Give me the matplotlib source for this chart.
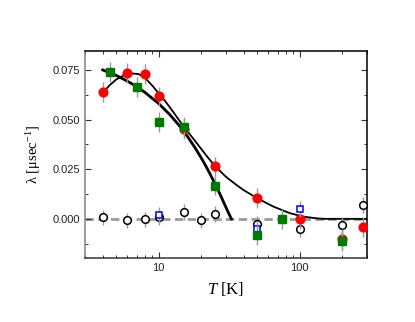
import matplotlib
matplotlib.use("Agg")
import matplotlib.pyplot as plt
from matplotlib.ticker import MultipleLocator, LogLocator, NullFormatter, FixedLocator, FixedFormatter

plt.rcParams["mathtext.fontset"] = "custom"
plt.rcParams["mathtext.it"] = "Liberation Serif:italic"
plt.rcParams["mathtext.rm"] = "Liberation Serif"
plt.rcParams["mathtext.default"] = "rm"

# red circles
T_red = [4, 6, 8, 10, 15, 25, 50, 100, 200, 280]
lam_red = [0.0639, 0.0737, 0.0729, 0.0617, 0.0453, 0.0264, 0.0107, 0.0, -0.0102, -0.0039]
err_red = [0.005] * len(T_red)

# green squares
T_green = [4.5, 7, 10, 15, 25, 50, 75, 200]
lam_green = [0.0739, 0.0664, 0.049, 0.0462, 0.0168, -0.0081, 0.0, -0.0111]
err_green = [0.005] * len(T_green)

# blue open squares
T_blue = [10, 50, 100]
lam_blue = [0.002, -0.0052, 0.0049]
err_blue = [0.004] * len(T_blue)

# black open circles
T_open = [4, 6, 8, 10, 15, 20, 25, 50, 100, 200, 280]
lam_open = [0.0007, -0.0008, -0.0003, 0.0007, 0.0034, -0.0008, 0.0025, -0.0025, -0.0049, -0.003, 0.0072]
err_open = [0.004] * len(T_open)

# thick curve
T_thick = [4, 5, 6, 7, 8, 10, 12, 14, 16, 18, 20, 22, 24, 26, 28, 30, 31.5, 32.8]
lam_thick = [0.0751, 0.0723, 0.0694, 0.0666, 0.0637, 0.0581, 0.0525, 0.0470, 0.0415,
             0.0361, 0.0308, 0.0256, 0.0204, 0.0154, 0.0105, 0.0058, 0.0025, 0.0]

# thin curve
T_thin = [4, 4.5, 5, 5.7, 6.5, 7.2, 8, 9, 10, 11, 12.5, 15, 18, 22, 25, 30, 35, 40,
          50, 65, 85, 105, 130, 150, 300]
lam_thin = [0.0636, 0.0675, 0.0703, 0.0725, 0.0733, 0.0730, 0.0710, 0.0672, 0.0632,
            0.0598, 0.0545, 0.0466, 0.0395, 0.0315, 0.0267, 0.0212, 0.0175, 0.0145,
            0.0104, 0.0062, 0.0029, 0.0012, 0.0003, 0.0, 0.0]

fig = plt.figure(figsize=(4.15, 3.22), dpi=100)
ax = fig.add_axes([0.205, 0.199, 0.679, 0.643])

ax.axhline(0, color="#999999", lw=2, dashes=(3, 1.6), zorder=1)

ax.plot(T_thick, lam_thick, color="black", lw=2.0, zorder=2)
ax.plot(T_thin, lam_thin, color="black", lw=1.3, zorder=2)

ebkw = dict(ecolor="#999999", elinewidth=1, capsize=0, linestyle="none")
ax.errorbar(T_open, lam_open, yerr=err_open, marker="o", ms=5.5, mfc="white",
            mec="black", mew=1.1, zorder=3, **ebkw)
ax.errorbar(T_red, lam_red, yerr=err_red, marker="o", ms=6.3, mfc="red",
            mec="red", zorder=4, **ebkw)
ax.errorbar(T_blue, lam_blue, yerr=err_blue, marker="s", ms=5, mfc="white",
            mec="blue", mew=1.1, zorder=5, **ebkw)
ax.errorbar(T_green, lam_green, yerr=err_green, marker="s", ms=5.3, mfc="#007a00",
            mec="#007a00", zorder=6, **ebkw)

ax.set_xscale("log")
ax.set_xlim(3, 300)
ax.set_ylim(-0.0197, 0.0847)

ax.xaxis.set_major_locator(FixedLocator([10, 100]))
ax.xaxis.set_major_formatter(FixedFormatter(["10", "100"]))
ax.xaxis.set_minor_locator(LogLocator(base=10, subs=range(2, 10), numticks=20))
ax.xaxis.set_minor_formatter(NullFormatter())
ax.yaxis.set_major_locator(MultipleLocator(0.025))
ax.yaxis.set_minor_locator(MultipleLocator(0.0125))
ax.yaxis.set_major_formatter(plt.FuncFormatter(lambda v, p: "%.3f" % v))

ax.tick_params(which="both", direction="in", top=True, right=True,
               labelsize=8, labelcolor="#222222", color="#333333")
ax.tick_params(which="major", length=4, width=0.8)
ax.tick_params(which="minor", length=2.5, width=0.7)
for lab in ax.get_xticklabels() + ax.get_yticklabels():
    lab.set_family("Liberation Sans")

for s in ["top", "right"]:
    ax.spines[s].set_color("black")
    ax.spines[s].set_linewidth(1.1)
ax.spines["left"].set_color("#808080")
ax.spines["left"].set_linewidth(1.1)
ax.spines["bottom"].set_color("#333333")
ax.spines["bottom"].set_linewidth(1.1)

ax.set_xlabel(r"$\mathit{T}$ [K]", family="Liberation Serif", fontsize=12, labelpad=5)
ax.set_ylabel(r"λ [μsec$^{-1}$]", family="Liberation Serif", fontsize=10.5, labelpad=7)

fig.savefig("out.png", dpi=100)
